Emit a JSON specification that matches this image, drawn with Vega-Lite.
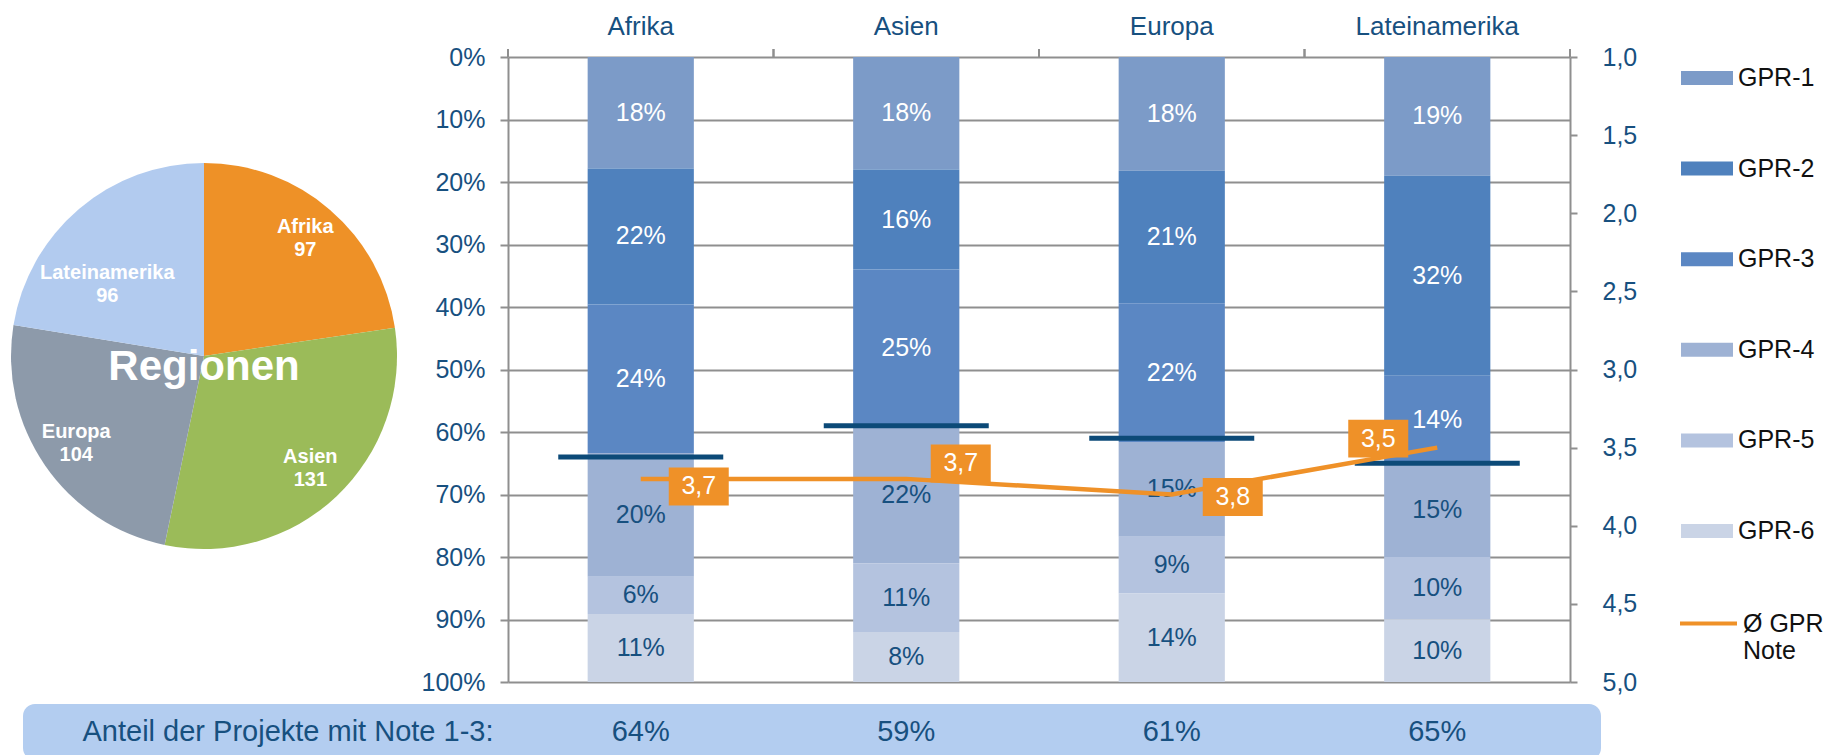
{
  "$schema": "https://vega.github.io/schema/vega-lite/v6.json",
  "padding": {"left": 11, "top": 13, "right": 5, "bottom": 0},
  "config": {
    "font": "Liberation Sans",
    "view": {"stroke": null},
    "locale": {"number": {"decimal": ",", "thousands": ".", "grouping": [3], "currency": ["", " €"]}}
  },
  "datasets": {
    "pie": [
      {"region": "Afrika", "count": 97},
      {"region": "Asien", "count": 131},
      {"region": "Europa", "count": 104},
      {"region": "Lateinamerika", "count": 96}
    ],
    "gpr": [
      {"region": "Afrika", "gpr": "GPR-1", "share": 0.18},
      {"region": "Afrika", "gpr": "GPR-2", "share": 0.22},
      {"region": "Afrika", "gpr": "GPR-3", "share": 0.24},
      {"region": "Afrika", "gpr": "GPR-4", "share": 0.20},
      {"region": "Afrika", "gpr": "GPR-5", "share": 0.06},
      {"region": "Afrika", "gpr": "GPR-6", "share": 0.11},
      {"region": "Asien", "gpr": "GPR-1", "share": 0.18},
      {"region": "Asien", "gpr": "GPR-2", "share": 0.16},
      {"region": "Asien", "gpr": "GPR-3", "share": 0.25},
      {"region": "Asien", "gpr": "GPR-4", "share": 0.22},
      {"region": "Asien", "gpr": "GPR-5", "share": 0.11},
      {"region": "Asien", "gpr": "GPR-6", "share": 0.08},
      {"region": "Europa", "gpr": "GPR-1", "share": 0.18},
      {"region": "Europa", "gpr": "GPR-2", "share": 0.21},
      {"region": "Europa", "gpr": "GPR-3", "share": 0.22},
      {"region": "Europa", "gpr": "GPR-4", "share": 0.15},
      {"region": "Europa", "gpr": "GPR-5", "share": 0.09},
      {"region": "Europa", "gpr": "GPR-6", "share": 0.14},
      {"region": "Lateinamerika", "gpr": "GPR-1", "share": 0.19},
      {"region": "Lateinamerika", "gpr": "GPR-2", "share": 0.32},
      {"region": "Lateinamerika", "gpr": "GPR-3", "share": 0.14},
      {"region": "Lateinamerika", "gpr": "GPR-4", "share": 0.15},
      {"region": "Lateinamerika", "gpr": "GPR-5", "share": 0.10},
      {"region": "Lateinamerika", "gpr": "GPR-6", "share": 0.10}
    ],
    "regions": [
      {"region": "Afrika", "share13": 0.64, "note": 3.7},
      {"region": "Asien", "share13": 0.59, "note": 3.7},
      {"region": "Europa", "share13": 0.61, "note": 3.8},
      {"region": "Lateinamerika", "share13": 0.65, "note": 3.5}
    ],
    "bandlabel": [{"label": "Anteil der Projekte mit Note 1-3:"}]
  },
  "bounds": "flush",
  "spacing": 485,
  "resolve": {"scale": {"color": "independent", "stroke": "independent"}},
  "hconcat": [
    {
      "bounds": "flush",
      "spacing": 49,
      "vconcat": [
        {
          "width": 362,
          "height": 598,
          "data": {"name": "pie"},
          "layer": [
            {
              "mark": {"type": "arc", "outerRadius": 193},
              "encoding": {
                "theta": {"field": "count", "type": "quantitative", "stack": true},
                "color": {"field": "region", "type": "nominal", "scale": {"domain": ["Afrika", "Asien", "Europa", "Lateinamerika"], "range": ["#ee9127", "#9bbb59", "#8d9aaa", "#b2cbef"]}, "legend": null},
                "order": {"field": "region", "type": "ordinal"}
              }
            },
            {
              "mark": {"type": "text", "radius": 155, "dy": -11.5, "fontSize": 20, "fontWeight": "bold", "color": "white"},
              "encoding": {
                "theta": {"field": "count", "type": "quantitative", "stack": true},
                "detail": {"field": "region", "type": "nominal"},
                "order": {"field": "region", "type": "ordinal"},
                "text": {"condition": {"test": "datum.region === 'Lateinamerika'", "value": ""}, "field": "region", "type": "nominal"}
              }
            },
            {
              "mark": {"type": "text", "radius": 155, "dy": 11.5, "fontSize": 20, "fontWeight": "bold", "color": "white"},
              "encoding": {
                "theta": {"field": "count", "type": "quantitative", "stack": true},
                "detail": {"field": "region", "type": "nominal"},
                "order": {"field": "region", "type": "ordinal"},
                "text": {"condition": {"test": "datum.region === 'Lateinamerika'", "value": ""}, "field": "count", "type": "quantitative"}
              }
            },
            {
              "mark": {"type": "text", "radius": 120, "dx": -19, "dy": 8.5, "fontSize": 20, "fontWeight": "bold", "color": "white"},
              "encoding": {
                "theta": {"field": "count", "type": "quantitative", "stack": true},
                "detail": {"field": "region", "type": "nominal"},
                "order": {"field": "region", "type": "ordinal"},
                "text": {"condition": {"test": "datum.region !== 'Lateinamerika'", "value": ""}, "field": "region", "type": "nominal"}
              }
            },
            {
              "mark": {"type": "text", "radius": 120, "dx": -19, "dy": 31.5, "fontSize": 20, "fontWeight": "bold", "color": "white"},
              "encoding": {
                "theta": {"field": "count", "type": "quantitative", "stack": true},
                "detail": {"field": "region", "type": "nominal"},
                "order": {"field": "region", "type": "ordinal"},
                "text": {"condition": {"test": "datum.region !== 'Lateinamerika'", "value": ""}, "field": "count", "type": "quantitative"}
              }
            },
            {
              "data": {"values": [{"title": "Regionen"}]},
              "mark": {"type": "text", "fontSize": 42, "fontWeight": "bold", "color": "white", "baseline": "alphabetic", "dy": 24},
              "encoding": {"text": {"field": "title", "type": "nominal"}}
            }
          ]
        },
        {
          "width": 530,
          "height": 56,
          "view": {"fill": "#b3cdf0", "cornerRadius": 12, "stroke": null},
          "data": {"name": "bandlabel"},
          "mark": {"type": "text", "fontSize": 29, "color": "#17507f"},
          "encoding": {"text": {"field": "label", "type": "nominal"}}
        }
      ]
    },
    {
      "bounds": "flush",
      "spacing": 22,
      "vconcat": [
        {
          "width": 1062,
          "height": 625,
          "resolve": {"scale": {"y": "independent"}},
          "layer": [
            {
              "layer": [
                {
                  "data": {"name": "gpr"},
                  "mark": {"type": "bar", "width": {"band": 0.4}},
                  "encoding": {
                    "x": {"field": "region", "type": "nominal", "sort": ["Afrika", "Asien", "Europa", "Lateinamerika"], "scale": {"type": "band", "paddingInner": 0, "paddingOuter": 0},
                      "axis": {"orient": "top", "title": null, "ticks": false, "domain": false, "grid": false, "labelAngle": 0, "labelFontSize": 26, "labelColor": "#17507f", "labelPadding": 18}},
                    "y": {"field": "share", "type": "quantitative", "stack": "normalize", "scale": {"domain": [0, 1], "reverse": true, "nice": false},
                      "axis": {"title": null, "values": [0, 0.1, 0.2, 0.3, 0.4, 0.5, 0.6, 0.7, 0.8, 0.9, 1], "format": ".0%", "grid": true, "gridColor": "#8f8f8f", "gridWidth": 2, "tickSize": 8, "tickColor": "#8f8f8f", "tickWidth": 2, "domainColor": "#8f8f8f", "domainWidth": 2, "labelFontSize": 25, "labelColor": "#17507f", "labelPadding": 15}},
                    "color": {"field": "gpr", "type": "nominal",
                      "scale": {"domain": ["GPR-1", "GPR-2", "GPR-3", "GPR-4", "GPR-5", "GPR-6"], "range": ["#7c9bc8", "#4f81bd", "#5b87c3", "#9eb2d4", "#b4c3df", "#cad4e6"]},
                      "legend": {"orient": "none", "legendX": 1173, "legendY": -5, "title": null, "symbolType": "M-1,-0.27H1V0.27H-1Z", "symbolSize": 2704, "symbolStrokeWidth": 0, "labelFontSize": 25, "labelColor": "#111111", "labelOffset": 5, "rowPadding": 51.6}},
                    "order": {"field": "gpr", "type": "ordinal", "sort": "ascending"}
                  }
                },
                {
                  "data": {"name": "gpr"},
                  "mark": {"type": "text", "fontSize": 25},
                  "encoding": {
                    "x": {"field": "region", "type": "nominal", "sort": ["Afrika", "Asien", "Europa", "Lateinamerika"]},
                    "y": {"field": "share", "type": "quantitative", "stack": "normalize", "bandPosition": 0.5},
                    "detail": {"field": "gpr", "type": "nominal"},
                    "order": {"field": "gpr", "type": "ordinal", "sort": "ascending"},
                    "text": {"field": "share", "type": "quantitative", "format": ".0%"},
                    "color": {"condition": {"test": "indexof(['GPR-1','GPR-2','GPR-3'], datum.gpr) >= 0", "value": "white"}, "value": "#17507f"}
                  }
                },
                {
                  "data": {"name": "regions"},
                  "mark": {"type": "tick", "size": 165, "thickness": 5, "color": "#0c4a78", "opacity": 1},
                  "encoding": {
                    "x": {"field": "region", "type": "nominal", "sort": ["Afrika", "Asien", "Europa", "Lateinamerika"]},
                    "y": {"field": "share13", "type": "quantitative"}
                  }
                },
                {
                  "data": {"name": "regions"},
                  "mark": {"type": "rule", "color": "#8f8f8f", "strokeWidth": 2},
                  "encoding": {
                    "x": {"field": "region", "type": "nominal", "sort": ["Afrika", "Asien", "Europa", "Lateinamerika"], "bandPosition": 0},
                    "y": {"datum": 0},
                    "y2": {"datum": -0.0128}
                  }
                },
                {
                  "data": {"name": "regions"},
                  "mark": {"type": "rule", "color": "#8f8f8f", "strokeWidth": 2},
                  "encoding": {
                    "x": {"field": "region", "type": "nominal", "sort": ["Afrika", "Asien", "Europa", "Lateinamerika"], "bandPosition": 1},
                    "y": {"datum": 0},
                    "y2": {"datum": -0.0128}
                  }
                }
              ]
            },
            {
              "layer": [
                {
                  "data": {"name": "regions"},
                  "mark": {"type": "line", "strokeWidth": 4.5},
                  "encoding": {
                    "x": {"field": "region", "type": "nominal", "sort": ["Afrika", "Asien", "Europa", "Lateinamerika"]},
                    "y": {"field": "note", "type": "quantitative", "scale": {"domain": [1, 5], "reverse": true, "nice": false, "zero": false},
                      "axis": {"orient": "right", "title": null, "values": [1, 1.5, 2, 2.5, 3, 3.5, 4, 4.5, 5], "format": ".1f", "grid": false, "tickSize": 7, "tickColor": "#8f8f8f", "tickWidth": 2, "domainColor": "#8f8f8f", "domainWidth": 2, "labelFontSize": 25, "labelColor": "#17507f", "labelPadding": 25}},
                    "stroke": {"datum": "Ø GPR Note", "type": "nominal", "scale": {"range": ["#ef9128"]},
                      "legend": {"orient": "none", "legendX": 1170, "legendY": 536, "title": null, "symbolType": "stroke", "symbolSize": 3249, "symbolStrokeWidth": 4, "labelFontSize": 25, "labelColor": "#111111", "labelOffset": 4, "labelExpr": "['Ø GPR', 'Note']"}}
                  }
                },
                {
                  "data": {"name": "regions"},
                  "transform": [{"filter": "datum.region === 'Afrika'"}],
                  "layer": [
                    {"mark": {"type": "point", "shape": "M-1,-0.633H1V0.633H-1Z", "size": 3600, "filled": true, "opacity": 1, "color": "#ef9128", "strokeWidth": 0, "xOffset": 58, "yOffset": 7.6},
                     "encoding": {"x": {"field": "region", "type": "nominal"}, "y": {"field": "note", "type": "quantitative"}}},
                    {"mark": {"type": "text", "color": "white", "fontSize": 25, "xOffset": 58, "yOffset": 7.6},
                     "encoding": {"x": {"field": "region", "type": "nominal"}, "y": {"field": "note", "type": "quantitative"}, "text": {"field": "note", "type": "quantitative", "format": ".1f"}}}
                  ]
                },
                {
                  "data": {"name": "regions"},
                  "transform": [{"filter": "datum.region === 'Asien'"}],
                  "layer": [
                    {"mark": {"type": "point", "shape": "M-1,-0.633H1V0.633H-1Z", "size": 3600, "filled": true, "opacity": 1, "color": "#ef9128", "strokeWidth": 0, "xOffset": 54.5, "yOffset": -15.4},
                     "encoding": {"x": {"field": "region", "type": "nominal"}, "y": {"field": "note", "type": "quantitative"}}},
                    {"mark": {"type": "text", "color": "white", "fontSize": 25, "xOffset": 54.5, "yOffset": -15.4},
                     "encoding": {"x": {"field": "region", "type": "nominal"}, "y": {"field": "note", "type": "quantitative"}, "text": {"field": "note", "type": "quantitative", "format": ".1f"}}}
                  ]
                },
                {
                  "data": {"name": "regions"},
                  "transform": [{"filter": "datum.region === 'Europa'"}],
                  "layer": [
                    {"mark": {"type": "point", "shape": "M-1,-0.633H1V0.633H-1Z", "size": 3600, "filled": true, "opacity": 1, "color": "#ef9128", "strokeWidth": 0, "xOffset": 61, "yOffset": 2.5},
                     "encoding": {"x": {"field": "region", "type": "nominal"}, "y": {"field": "note", "type": "quantitative"}}},
                    {"mark": {"type": "text", "color": "white", "fontSize": 25, "xOffset": 61, "yOffset": 2.5},
                     "encoding": {"x": {"field": "region", "type": "nominal"}, "y": {"field": "note", "type": "quantitative"}, "text": {"field": "note", "type": "quantitative", "format": ".1f"}}}
                  ]
                },
                {
                  "data": {"name": "regions"},
                  "transform": [{"filter": "datum.region === 'Lateinamerika'"}],
                  "layer": [
                    {"mark": {"type": "point", "shape": "M-1,-0.633H1V0.633H-1Z", "size": 3600, "filled": true, "opacity": 1, "color": "#ef9128", "strokeWidth": 0, "xOffset": -59, "yOffset": -9},
                     "encoding": {"x": {"field": "region", "type": "nominal"}, "y": {"field": "note", "type": "quantitative"}}},
                    {"mark": {"type": "text", "color": "white", "fontSize": 25, "xOffset": -59, "yOffset": -9},
                     "encoding": {"x": {"field": "region", "type": "nominal"}, "y": {"field": "note", "type": "quantitative"}, "text": {"field": "note", "type": "quantitative", "format": ".1f"}}}
                  ]
                }
              ]
            }
          ]
        },
        {
          "width": 1093,
          "height": 56,
          "view": {"fill": "#b3cdf0", "cornerRadius": 12, "stroke": null},
          "data": {"name": "regions"},
          "mark": {"type": "text", "fontSize": 29, "color": "#17507f"},
          "encoding": {
            "x": {"field": "region", "type": "nominal", "sort": ["Afrika", "Asien", "Europa", "Lateinamerika"], "scale": {"type": "band", "paddingInner": 0, "paddingOuter": 0.0584, "align": 0}, "axis": null},
            "text": {"field": "share13", "type": "quantitative", "format": ".0%"}
          }
        }
      ]
    }
  ]
}
